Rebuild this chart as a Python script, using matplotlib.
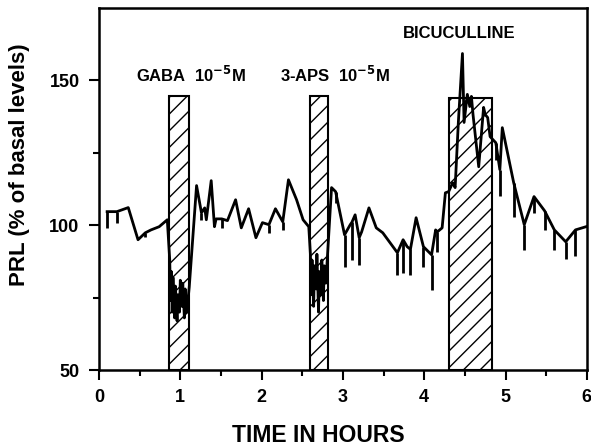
import matplotlib
matplotlib.use("Agg")
import matplotlib.pyplot as plt
import numpy as np

plt.rcParams['font.family'] = ['Liberation Sans', 'DejaVu Sans']
plt.rcParams['font.weight'] = 'bold'
plt.rcParams['hatch.linewidth'] = 1.0

# PRL trace: time (hours), value (% of basal), downward spike length
hours = [0.10, 0.22, 0.36, 0.48, 0.57, 0.64, 0.74, 0.84,
         0.87, 0.88, 0.89, 0.90, 0.91, 0.93, 0.94, 0.96, 0.97, 0.99, 1.00,
         1.02, 1.03, 1.05, 1.06, 1.08, 1.11,
         1.20, 1.26, 1.30, 1.32, 1.38, 1.42, 1.44, 1.51, 1.58, 1.68,
         1.75, 1.84, 1.93, 2.01, 2.09, 2.17, 2.26, 2.33, 2.43, 2.51, 2.58,
         2.60, 2.61, 2.62, 2.64, 2.65, 2.67, 2.68, 2.70, 2.71, 2.73,
         2.74, 2.76, 2.77, 2.79,
         2.86, 2.91, 3.02, 3.09, 3.11, 3.15, 3.20, 3.23, 3.32, 3.41,
         3.49, 3.67, 3.74, 3.79, 3.83, 3.90, 3.99, 4.09, 4.14, 4.16,
         4.22, 4.26, 4.30, 4.35, 4.38, 4.42, 4.47, 4.49, 4.53, 4.56,
         4.58, 4.60, 4.67, 4.73, 4.75, 4.78, 4.81, 4.88, 4.93, 4.96,
         5.10, 5.23, 5.35, 5.48, 5.60, 5.74, 5.86, 5.99]
prl = [104.7, 104.7, 106.1, 95.0, 97.4, 98.4, 99.5, 101.9,
       88, 74, 84, 70, 82, 68, 79, 67, 76, 70, 81,
       72, 80, 68, 78, 70, 78.7,
       113.7, 104.3, 106.0, 101.9, 115.4, 99.5, 102.2, 102.2, 101.6, 108.8,
       99.1, 105.7, 95.7, 100.9, 100.2, 105.7, 101.2, 115.7, 108.8, 101.9, 99.5,
       90, 76, 88, 72, 86, 78, 90, 70, 84, 76,
       88, 74, 86, 80,
       113.0, 111.6, 96.7, 100.2, 101.0, 103.6, 95.7, 97.7, 106.0, 99.1,
       97.4, 90.5, 95.0, 92.6, 91.7, 102.6, 92.6, 89.8, 98.4, 97.7,
       99.1, 111.2, 111.6, 114.7, 113.0, 135.8, 159.3, 135.5, 145.2, 141.0,
       144.5, 138.2, 120.2, 140.7, 138.2, 137.2, 130.6, 128.5, 119.2, 133.7,
       114.7, 100.2, 109.9, 105.0, 98.4, 94.3, 98.4, 99.5]
spike = [5.6, 3.8, 0, 0, 1.5, 0, 0, 0,
         0, 0, 0, 0, 0, 0, 0, 0, 0, 0, 0,
         0, 0, 0, 0, 0, 0,
         0, 2.4, 0, 0, 0, 0, 0, 3.0, 0, 0,
         0, 0, 0, 0, 3.0, 0, 3.0, 0, 0, 0, 0,
         0, 0, 0, 0, 0, 0, 0, 0, 0, 0,
         0, 0, 0, 0,
         0, 4.0, 11.0, 0, 13.0, 0, 9.3, 0, 0, 0,
         0, 7.6, 11.4, 0, 9.0, 0, 6.9, 12.0, 0, 7.0,
         0, 0, 0, 0, 0, 0, 0, 0, 0, 0,
         0, 0, 0, 0, 0, 0, 0, 6.0, 9.0, 0,
         11.8, 8.6, 5.5, 6.6, 6.9, 6.0, 9.0, 0]

# treatment periods (hours) and bar top
treat_start = [0.855, 2.60, 4.31]
treat_end = [1.11, 2.82, 4.83]
treat_top = [144.5, 144.5, 143.8]
treat_labels = ['GABA  10$^{\\mathbf{-5}}$M', '3-APS  10$^{\\mathbf{-5}}$M', 'BICUCULLINE']
label_x = [0.46, 2.22, 3.74]
label_y = [149.5, 149.5, 164.5]

fig = plt.figure(figsize=(5.91, 4.48), dpi=100)
ax = fig.add_axes([0.1675, 0.174, 0.8255, 0.808])

for s, e, t in zip(treat_start, treat_end, treat_top):
    ax.bar(s, t - 50, width=e - s, bottom=50, align='edge', facecolor='white',
           edgecolor='black', linewidth=1.5, hatch='//', zorder=2)

ax.plot(hours, prl, color='black', linewidth=2.0, zorder=3)
ax.vlines(hours, np.array(prl) - np.array(spike), prl, color='black',
          linewidth=2.0, zorder=3)

for lab, x, y in zip(treat_labels, label_x, label_y):
    ax.text(x, y, lab, fontsize=12, fontweight='bold', ha='left', va='baseline')

ax.set_xlim(0, 6)
ax.set_ylim(50, 175)
ax.set_xticks([0, 1, 2, 3, 4, 5, 6])
ax.set_xticks(np.arange(0.5, 6, 1.0), minor=True)
ax.set_yticks([50, 100, 150])
ax.set_yticks([75, 125], minor=True)
ax.tick_params(axis='both', which='major', direction='out', length=7, width=1.5,
               labelsize=13, pad=7)
ax.tick_params(axis='both', which='minor', direction='out', length=4, width=1.5)
for lbl in ax.get_xticklabels() + ax.get_yticklabels():
    lbl.set_fontweight('bold')
for sp in ax.spines.values():
    sp.set_linewidth(1.8)

ax.set_xlabel('TIME IN HOURS', fontsize=16.5, fontweight='bold')
ax.xaxis.set_label_coords(0.45, -0.148)
ax.set_ylabel('PRL (% of basal levels)', fontsize=16, fontweight='bold')
ax.yaxis.set_label_coords(-0.141, 0.566)

fig.savefig('out.png', dpi=100)
